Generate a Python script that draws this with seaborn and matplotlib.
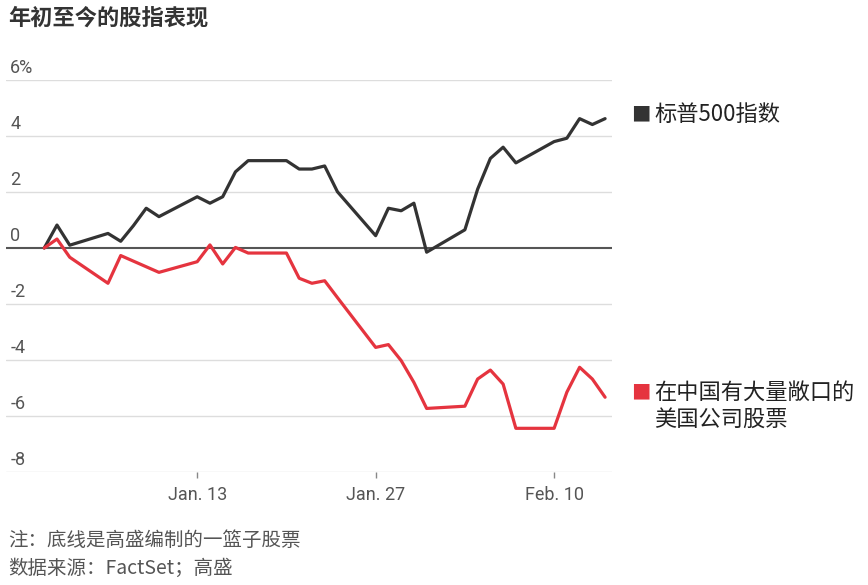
import pandas as pd
import numpy as np
import seaborn as sns
import matplotlib
matplotlib.use('Agg')
import matplotlib.pyplot as plt
import matplotlib.dates as mdates

# Data, % change year to date
dates = ['2020-01-01', '2020-01-02', '2020-01-03',
         '2020-01-06', '2020-01-07', '2020-01-08', '2020-01-09', '2020-01-10',
         '2020-01-13', '2020-01-14', '2020-01-15', '2020-01-16', '2020-01-17',
         '2020-01-20', '2020-01-21', '2020-01-22', '2020-01-23', '2020-01-24',
         '2020-01-27', '2020-01-28', '2020-01-29', '2020-01-30', '2020-01-31',
         '2020-02-03', '2020-02-04', '2020-02-05', '2020-02-06', '2020-02-07',
         '2020-02-10', '2020-02-11', '2020-02-12', '2020-02-13', '2020-02-14']
sp500 = [0, 0.82, 0.1,
         0.52, 0.24, 0.8, 1.42, 1.12,
         1.83, 1.6, 1.83, 2.72, 3.12,
         3.12, 2.82, 2.82, 2.93, 2.01,
         0.44, 1.42, 1.33, 1.6, -0.15,
         0.65, 2.1, 3.2, 3.6, 3.04,
         3.8, 3.92, 4.62, 4.41, 4.62]
china_exposed = [0, 0.32, -0.33,
                 -1.26, -0.27, -0.47, -0.67, -0.87,
                 -0.49, 0.11, -0.57, 0.02, -0.18,
                 -0.18, -1.08, -1.26, -1.17, -1.77,
                 -3.55, -3.45, -4.02, -4.8, -5.73,
                 -5.65, -4.68, -4.36, -4.86, -6.44,
                 -6.44, -5.15, -4.26, -4.68, -5.33]
series_names = ['标普500指数', '在中国有大量敞口的\n美国公司股票']
series_colors = ['#333333', '#e5343f']

yticks = [6, 4, 2, 0, -2, -4, -6, -8]
ytick_labels = ['6%', '4', '2', '0', '-2', '-4', '-6', '-8']
xticks = ['2020-01-13', '2020-01-27', '2020-02-10']
xtick_labels = ['Jan. 13', 'Jan. 27', 'Feb. 10']

title = '年初至今的股指表现'
note = '注：底线是高盛编制的一篮子股票'
source = '数据来源：FactSet；高盛'

df = pd.DataFrame({
    'date': pd.to_datetime(dates * 2),
    'value': sp500 + china_exposed,
    'series': [series_names[0]] * len(dates) + [series_names[1]] * len(dates),
})

#Plot params
sns.set_theme(style='white')
plt.rcParams['font.family'] = ['Noto Sans CJK SC', 'DejaVu Sans']
num_font = ['Liberation Sans Narrow', 'Roboto', 'DejaVu Sans']

fig = plt.figure(figsize=(8.68, 5.85), dpi=100)
ax = fig.add_axes([6 / 868, 1 - 472 / 585, 606 / 868, 392 / 585])

for v in yticks:
    if v == 0:
        continue
    ax.axhline(v, color='#dddddd', lw=1, zorder=0)
ax.axhline(0, color='#555555', lw=1.5, zorder=1)

sns.lineplot(data=df, x='date', y='value', hue='series', palette=series_colors,
             linewidth=2.3, legend=False, ax=ax, zorder=3)

ax.set_ylim(-8, 6)
ax.set_xlim(pd.Timestamp('2019-12-29'), pd.Timestamp('2020-02-14 13:00'))
sns.despine(ax=ax, left=True, bottom=True, top=True, right=True)

ax.set_yticks([])
for v, lab in zip(yticks, ytick_labels):
    ax.text(0.007, v + 0.1, lab, transform=ax.get_yaxis_transform(),
            ha='left', va='bottom', fontsize=13, color='#555555', family=num_font)

ax.set_xticks(mdates.date2num(pd.to_datetime(xticks)))
ax.set_xticklabels(xtick_labels, family=num_font, fontsize=13, color='#555555')
ax.tick_params(axis='x', length=4, width=1, color='#888888', pad=6, bottom=True)
ax.set_xlabel('')
ax.set_ylabel('')

# Title and notes
fig.text(8 / 868, 1 - 18 / 585, title, fontsize=16, fontweight='bold',
         color='#333333', ha='left', va='center')
fig.text(8 / 868, 1 - 540 / 585, note, fontsize=14, color='#555555', ha='left', va='center')
fig.text(8 / 868, 1 - 568 / 585, source, fontsize=14, color='#555555', ha='left', va='center')

# Legend on the right
legend_y = [115, 393]
for name, col, ypix in zip(series_names, series_colors, legend_y):
    fig.text(631 / 868, 1 - ypix / 585, '■', fontsize=14, color=col, ha='left', va='center')
    fig.text(654 / 868, 1 - (ypix - 12) / 585, name, fontsize=16, color='#222222',
             ha='left', va='top', linespacing=1.2)

fig.savefig('out.png', dpi=100)
